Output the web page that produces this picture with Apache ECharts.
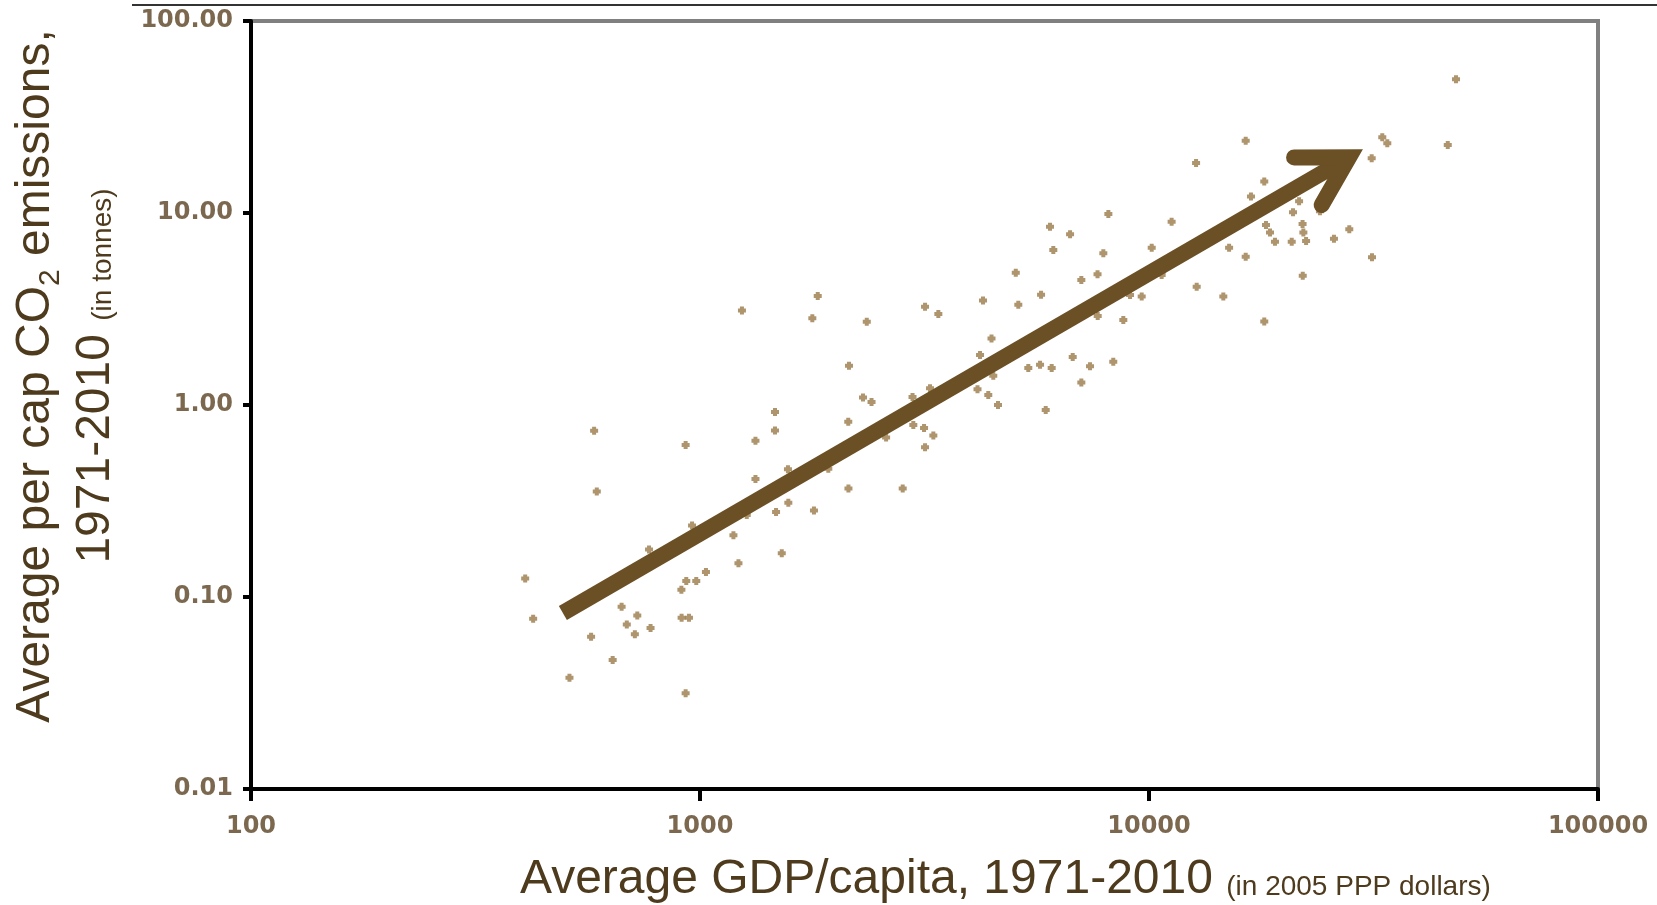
<!DOCTYPE html>
<html>
<head>
<meta charset="utf-8">
<script src="https://cdn.jsdelivr.net/npm/echarts@6/dist/echarts.min.js"></script>
<style>
  html, body { margin: 0; padding: 0; background: #fff; }
  #main { width: 1657px; height: 905px; }
</style>
</head>
<body>
<div id="main"></div>
<script>
// average GDP per capita (2005 PPP $) and per cap CO2 (tonnes), one pair per country
const gdp = [
  408, 425, 512, 572, 639, 669, 725, 687, 716, 776, 910, 945, 929, 909, 932, 981, 1031, 770, 960, 1187,
  1218, 581, 589, 929, 1271, 1329, 1329, 1469, 1469, 1521, 1570, 1573, 1477, 1794, 1931, 2139, 2141, 2828,
  2307, 2410, 2597, 2974, 3253, 2986, 3155, 3309, 3171, 4150, 4386, 4610, 1240, 1829, 1779, 2352, 3171,
  3395, 4269, 5116, 5749, 5050, 6019, 6671, 6122, 8119, 7912, 7068, 7680, 10140, 11230, 10670, 9073, 9632,
  12770, 7687, 8766, 4459, 4204, 2147, 5385, 5719, 6071, 6762, 7390, 8326, 7068, 4500, 5888, 48280, 33080,
  33940, 46280, 31330, 16420, 12730, 18060, 16870, 21590, 20930, 24030, 18220, 18600, 21980, 22070, 22380,
  20790, 19080, 25820, 27930, 15080, 16420, 31380, 22000, 14640, 18060
];
const co2 = [
  0.125, 0.077, 0.038, 0.062, 0.047, 0.089, 0.080, 0.072, 0.064, 0.069, 0.078, 0.078, 0.0315, 0.109, 0.121,
  0.121, 0.135, 0.177, 0.236, 0.210, 0.150, 0.735, 0.354, 0.619, 0.267, 0.412, 0.652, 0.919, 0.737, 0.169,
  0.463, 0.310, 0.277, 0.282, 0.466, 0.819, 0.367, 0.367, 1.094, 1.037, 0.677, 1.101, 1.222, 0.787, 0.759,
  0.694, 0.603, 1.209, 1.127, 1.000, 3.106, 3.696, 2.829, 2.716, 3.251, 2.979, 3.501, 3.330, 3.754, 4.889,
  8.48, 7.75, 6.42, 9.88, 6.17, 4.48, 4.80, 6.60, 9.01, 4.75, 3.74, 3.67, 4.13, 2.91, 2.77, 2.22, 1.82,
  1.60, 1.56, 1.62, 1.56, 1.78, 1.59, 1.68, 1.31, 1.42, 0.942, 49.7, 24.8, 23.1, 22.6, 19.3, 23.8, 18.2,
  14.6, 12.2, 11.5, 10.1, 10.2, 8.66, 7.91, 8.76, 7.91, 7.15, 7.09, 7.09, 7.34, 8.23, 6.59, 5.92, 5.88,
  4.71, 3.67, 2.72
];

// trend arrow, tail and head in data units
const arrowFrom = [495, 0.0825];
const arrowTo = [27900, 19.5];

const xTicks = [100, 1000, 10000, 100000];
const xTickLabels = ['100', '1000', '10000', '100000'];
const yTicks = [0.01, 0.1, 1, 10, 100];
const yTickLabels = ['0.01', '0.10', '1.00', '10.00', '100.00'];

const titleColor = '#4e3b1d';
const arrowColor = '#6b4f25';

function tickLabel(ticks, labels, v) {
  let best = 0;
  for (let i = 1; i < ticks.length; i++) {
    if (Math.abs(Math.log10(ticks[i]) - Math.log10(v)) < Math.abs(Math.log10(ticks[best]) - Math.log10(v))) best = i;
  }
  return labels[best];
}

const chart = echarts.init(document.getElementById('main'));

const labelStyle = {
  color: '#7c684f',
  fontFamily: 'DejaVu Sans',
  fontWeight: 'bold',
  fontSize: 24,
};

const titleFont = { fontFamily: 'Liberation Sans', fill: titleColor, color: titleColor };

const option = {
  animation: false,
  backgroundColor: '#fff',
  grid: {
    left: 251,
    right: 59,
    top: 21,
    bottom: 116,
    show: true,
    borderColor: '#808080',
    borderWidth: 4,
  },
  xAxis: {
    type: 'log',
    logBase: 10,
    min: xTicks[0],
    max: xTicks[xTicks.length - 1],
    splitNumber: 3,
    axisLine: { lineStyle: { color: '#000', width: 4 } },
    axisTick: { length: 12, lineStyle: { color: '#000', width: 4 } },
    splitLine: { show: false },
    minorTick: { show: false },
    axisLabel: Object.assign({
      margin: 26,
      showMinLabel: true,
      showMaxLabel: true,
      formatter: (v) => tickLabel(xTicks, xTickLabels, v),
    }, labelStyle),
  },
  yAxis: {
    type: 'log',
    logBase: 10,
    min: yTicks[0],
    max: yTicks[yTicks.length - 1],
    splitNumber: 4,
    axisLine: { lineStyle: { color: '#000', width: 4 } },
    axisTick: { length: 8, lineStyle: { color: '#000', width: 4 } },
    splitLine: { show: false },
    minorTick: { show: false },
    axisLabel: Object.assign({
      margin: 18,
      showMinLabel: true,
      showMaxLabel: true,
      formatter: (v) => tickLabel(yTicks, yTickLabels, v),
    }, labelStyle),
  },
  graphic: [
    {
      type: 'line',
      shape: { x1: 132, y1: 5, x2: 1657, y2: 5 },
      style: { stroke: '#333', lineWidth: 2 },
    },
    {
      type: 'text',
      x: 520,
      y: 880,
      style: {
        text: '{a|Average GDP/capita, 1971-2010 }{s|(in 2005 PPP dollars)}',
        align: 'left',
        verticalAlign: 'middle',
        rich: {
          a: Object.assign({ fontSize: 48, lineHeight: 60 }, titleFont),
          s: Object.assign({ fontSize: 28, lineHeight: 34, padding: [14, 0, 0, 0] }, titleFont),
        },
      },
    },
    {
      type: 'text',
      x: 66,
      y: 376,
      rotation: Math.PI / 2,
      style: {
        text: '{a|Average per cap CO}{sub|2}{a| emissions,}\n{a|1971-2010 }{s|(in tonnes)}',
        align: 'center',
        verticalAlign: 'middle',
        rich: {
          a: Object.assign({ fontSize: 48, lineHeight: 60 }, titleFont),
          sub: Object.assign({ fontSize: 30, lineHeight: 30, verticalAlign: 'bottom' }, titleFont),
          s: Object.assign({ fontSize: 28, lineHeight: 34, padding: [14, 0, 0, 0] }, titleFont),
        },
      },
    },
  ],
  series: [
    {
      type: 'scatter',
      symbol: 'path://M1,0H3V1H4V3H3V4H1V3H0V1H1Z',
      symbolSize: 8,
      itemStyle: { color: '#9a7a48' },
      data: gdp.map((g, i) => [g, co2[i]]),
      z: 2,
    },
    {
      type: 'custom',
      z: 3,
      data: [[arrowFrom[0], arrowFrom[1], arrowTo[0], arrowTo[1]]],
      encode: { x: [0, 2], y: [1, 3] },
      renderItem: function (params, api) {
        const p0 = api.coord([api.value(0), api.value(1)]);
        const p1 = api.coord([api.value(2), api.value(3)]);
        const len = Math.hypot(p1[0] - p0[0], p1[1] - p0[1]);
        const bx = -(p1[0] - p0[0]) / len;
        const by = -(p1[1] - p0[1]) / len;
        const arm = 55;
        const a = Math.PI / 6;
        const h1 = [p1[0] + arm * (bx * Math.cos(a) - by * Math.sin(a)), p1[1] + arm * (bx * Math.sin(a) + by * Math.cos(a))];
        const h2 = [p1[0] + arm * (bx * Math.cos(-a) - by * Math.sin(-a)), p1[1] + arm * (bx * Math.sin(-a) + by * Math.cos(-a))];
        return {
          type: 'group',
          children: [
            {
              type: 'polyline',
              shape: { points: [p0, p1] },
              style: { stroke: arrowColor, lineWidth: 16, lineCap: 'butt', fill: null },
            },
            {
              type: 'polyline',
              shape: { points: [h1, p1, h2] },
              style: { stroke: arrowColor, lineWidth: 16, lineCap: 'round', lineJoin: 'miter', miterLimit: 10, fill: null },
            },
          ],
        };
      },
    },
  ],
};

chart.setOption(option);
window.onresize = function () {
  chart.resize();
};
</script>
</body>
</html>
